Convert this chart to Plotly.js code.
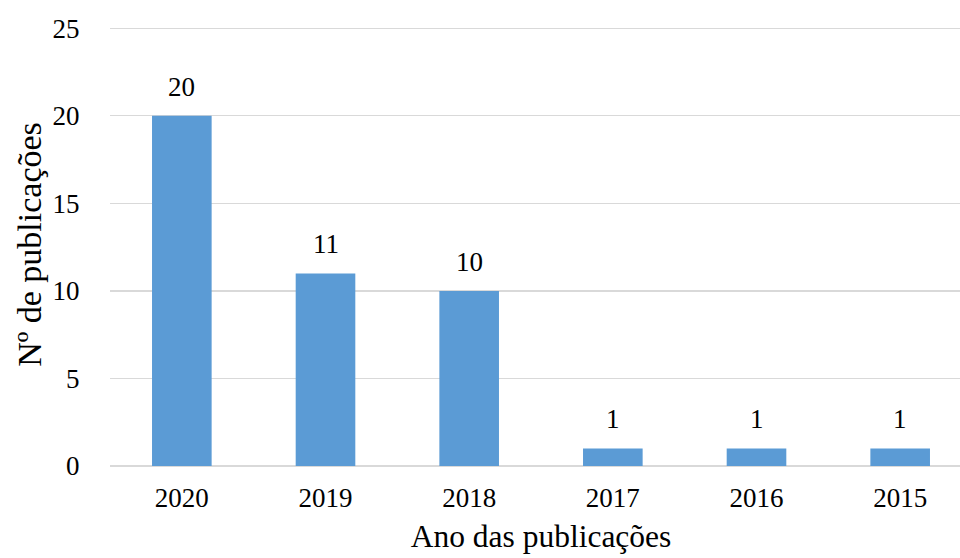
<!DOCTYPE html>
<html><head><meta charset="utf-8">
<script src="https://cdn.plot.ly/plotly-3.0.1.min.js"></script>
<style>html,body{margin:0;padding:0;overflow:hidden;background:#fff}#wrap{width:960px;height:558px;overflow:hidden}</style>
</head><body><div id="wrap"><div id="chart" style="width:972px;height:558px"></div></div>
<script>
const years = ['2020','2019','2018','2017','2016','2015'];
const counts = [20, 11, 10, 1, 1, 1];
const yTicks = [0, 5, 10, 15, 20, 25];

const font = 'Liberation Serif';
const trace = {
  type: 'bar', x: years, y: counts,
  marker: {color: '#5B9BD5'}, width: 0.415,
  hoverinfo: 'none'
};
const annotations = years.map((yr, i) => ({
  x: i, y: counts[i], xref: 'x', yref: 'y', text: String(counts[i]),
  showarrow: false, yanchor: 'bottom', yshift: 12,
  font: {family: font, size: 27, color: '#000'}
}));
const layout = {
  width: 972, height: 558,
  margin: {l: 110, r: 0, t: 22.7, b: 91.5},
  paper_bgcolor: '#fff', plot_bgcolor: '#fff',
  showlegend: false,
  font: {family: font, color: '#000'},
  xaxis: {
    type: 'category', range: [-0.5, 5.5],
    showgrid: false, showline: false, zeroline: false,
    ticks: 'outside', ticklen: 8, tickcolor: 'rgba(0,0,0,0)',
    tickfont: {family: font, size: 27, color: '#000'},
    title: {text: 'Ano das publicações', font: {family: font, size: 31.5, color: '#000'}, standoff: 12}
  },
  yaxis: {
    range: [0, 25.3], tickvals: yTicks, ticktext: yTicks.map(String),
    showgrid: true, gridcolor: '#d9d9d9', gridwidth: 1.3,
    zeroline: true, zerolinecolor: '#d9d9d9', zerolinewidth: 1.3,
    showline: false,
    ticks: 'outside', ticklen: 24, tickcolor: 'rgba(0,0,0,0)',
    tickfont: {family: font, size: 27, color: '#000'},
    title: {text: 'Nº de publicações', font: {family: font, size: 34, color: '#000'}, standoff: 0}
  },
  annotations: annotations
};
Plotly.newPlot('chart', [trace], layout, {displayModeBar: false, staticPlot: true});
</script></body></html>
